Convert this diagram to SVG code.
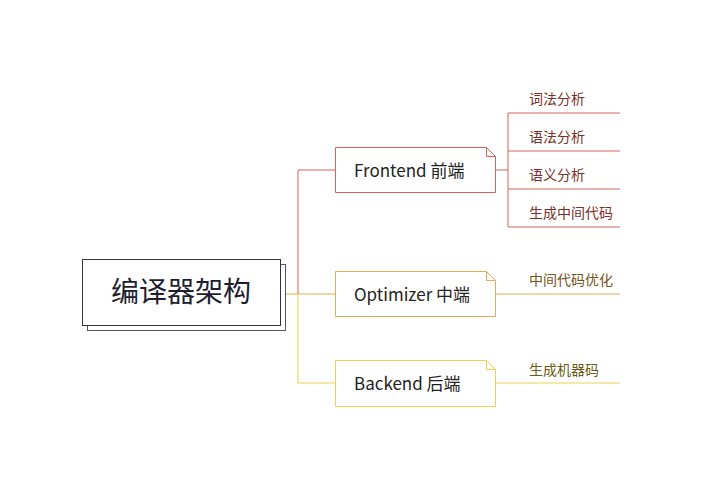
<svg xmlns="http://www.w3.org/2000/svg" width="718" height="494" viewBox="0 0 718 494">
<style>
text{font-family:"Noto Sans CJK SC","Noto Sans",sans-serif}
.node{font-size:17px;fill:#222}
.leaf{font-size:14px}
.c{fill:none;stroke-width:1}
</style>
<rect width="718" height="494" fill="#fff"/>
<g id="connectors">
<path class="c" stroke="#d6625a" d="M298 294 V170 H335"/>
<path class="c" stroke="#e8aa55" d="M285 294 H335"/>
<path class="c" stroke="#f0d04c" d="M298 294 V383 H335"/>
<path class="c" stroke="#d6625a" d="M495 170 H508 M508 113 V227 M508 113 H620 M508 151 H620 M508 189 H620 M508 227 H620"/>
<path class="c" stroke="#e8aa55" d="M495 294 H620"/>
<path class="c" stroke="#f0d04c" d="M495 383 H620"/>
</g>
<g id="root">
<rect x="87.500" y="264.500" width="198" height="66" fill="#fff" stroke="#555566"/>
<rect x="82.500" y="259.500" width="198" height="66" fill="#fff" stroke="#333344"/>
<text x="181" y="302" font-size="28" text-anchor="middle" fill="#1e1e30">编译器架构</text>
</g>
<g id="frontend">
<path d="M335.500 147.500 H486.500 L495.500 156.500 V192.500 H335.500 Z M486.500 147.500 V156.500 H495.500" fill="#fff" stroke="#d6625a"/>
<text class="node" x="354" y="177">Frontend 前端</text>
</g>
<g id="optimizer">
<path d="M335.500 271.500 H486.500 L495.500 280.500 V316.500 H335.500 Z M486.500 271.500 V280.500 H495.500" fill="#fff" stroke="#e8aa55"/>
<text class="node" x="354" y="301">Optimizer 中端</text>
</g>
<g id="backend">
<path d="M335.500 360.500 H486.500 L495.500 369.500 V406.500 H335.500 Z M486.500 360.500 V369.500 H495.500" fill="#fff" stroke="#f0d04c"/>
<text class="node" x="354" y="390">Backend 后端</text>
</g>
<g id="leaf1"><text class="leaf" x="529" y="104" fill="#7a3028">词法分析</text></g>
<g id="leaf2"><text class="leaf" x="529" y="142" fill="#7a3028">语法分析</text></g>
<g id="leaf3"><text class="leaf" x="529" y="180" fill="#7a3028">语义分析</text></g>
<g id="leaf4"><text class="leaf" x="529" y="218" fill="#7a3028">生成中间代码</text></g>
<g id="leaf5"><text class="leaf" x="529" y="285" fill="#7a5220">中间代码优化</text></g>
<g id="leaf6"><text class="leaf" x="529" y="375" fill="#6b5a12">生成机器码</text></g>
</svg>
